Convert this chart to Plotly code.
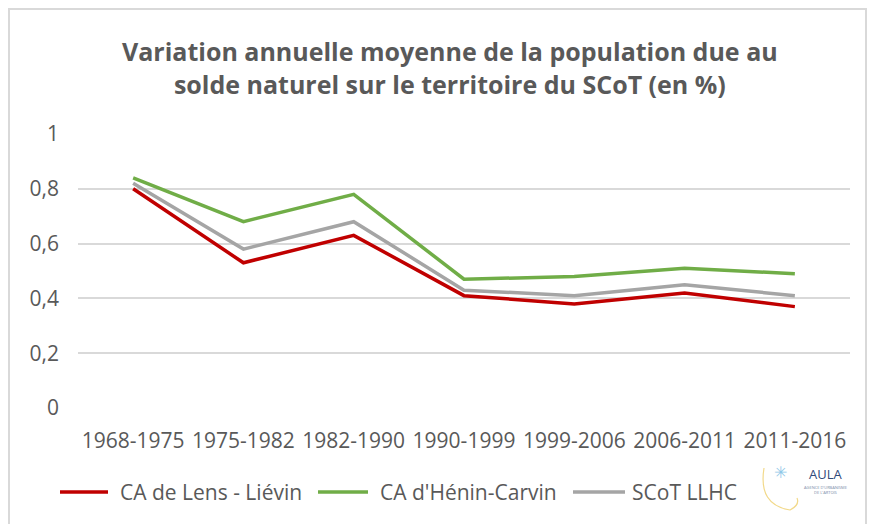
import plotly.graph_objects as go

periods = ["1968-1975", "1975-1982", "1982-1990", "1990-1999", "1999-2006", "2006-2011", "2011-2016"]
lens_lievin = [0.80, 0.53, 0.63, 0.41, 0.38, 0.42, 0.37]
henin_carvin = [0.84, 0.68, 0.78, 0.47, 0.48, 0.51, 0.49]
scot_llhc = [0.82, 0.58, 0.68, 0.43, 0.41, 0.45, 0.41]
series_names = ["CA de Lens - Liévin", "CA d'Hénin-Carvin", "SCoT LLHC"]
series_colors = ["#c00000", "#70ad47", "#a5a5a5"]
y_ticks = [0, 0.2, 0.4, 0.6, 0.8, 1]
y_tick_text = ["0", "0,2", "0,4", "0,6", "0,8", "1"]
title_text = "Variation annuelle moyenne de la population due au<br>solde naturel sur le territoire du SCoT (en %)"

SW, SH = 880, 524          # screen size
OFF = 8                    # page body margin
L, R, T, B = 78, 850, 134, 408   # plot area in screen pixels

def px(x):
    return (x - L) / (R - L)

def py(y):
    return (B - y) / (B - T)

FONT = "Open Sans"
TXT = "#595959"

fig = go.Figure()
for vals, name, col in zip([lens_lievin, henin_carvin, scot_llhc], series_names, series_colors):
    fig.add_trace(go.Scatter(x=periods, y=vals, name=name, mode="lines",
                             line=dict(color=col, width=3.5)))

shapes = []
annotations = []
# chart frame
shapes.append(dict(type="rect", xref="paper", yref="paper",
                   x0=px(9), x1=px(866), y0=py(540), y1=py(9),
                   line=dict(color="#d9d9d9", width=2), fillcolor="rgba(0,0,0,0)", layer="below"))

# legend (drawn manually to match the swatch length and spacing)
legend_y = 492
legend_slots = [(60, 108, 118), (318, 368, 378), (573, 625, 630)]
for (x0, x1, xt), name, col in zip(legend_slots, series_names, series_colors):
    shapes.append(dict(type="line", xref="paper", yref="paper",
                       x0=px(x0), x1=px(x1), y0=py(legend_y), y1=py(legend_y),
                       line=dict(color=col, width=3.5)))
    annotations.append(dict(text=name, xref="paper", yref="paper", x=px(xt), y=py(legend_y),
                            xanchor="left", yanchor="middle", showarrow=False,
                            font=dict(family=FONT, size=21, color=TXT)))

# logo arc
shapes.append(dict(type="path", xref="paper", yref="paper",
                   path=f"M {px(764)},{py(468)} Q {px(758)},{py(505)} {px(790)},{py(510)} Q {px(800)},{py(505)} {px(797)},{py(498)}",
                   line=dict(color="#f2d98a", width=1.2)))

annotations += [
    dict(text=title_text, xref="paper", yref="paper", x=px(450), y=py(68),
         xanchor="center", yanchor="middle", showarrow=False,
         font=dict(family=FONT, size=25, color=TXT, weight="bold")),
    dict(text="AULA", xref="paper", yref="paper", x=px(825), y=py(474),
         xanchor="center", yanchor="middle", showarrow=False,
         font=dict(family=FONT, size=13, color="#2f4a7a")),
    dict(text="AGENCE D'URBANISME<br>DE L'ARTOIS", xref="paper", yref="paper", x=px(825), y=py(490),
         xanchor="center", yanchor="middle", showarrow=False,
         font=dict(family=FONT, size=4, color="#7a8aa8")),
    dict(text="✳", xref="paper", yref="paper", x=px(780), y=py(472),
         xanchor="center", yanchor="middle", showarrow=False,
         font=dict(family="DejaVu Sans", size=16, color="#8ec8e8")),
]

fig.update_layout(
    width=SW - OFF, height=SH - OFF,
    margin=dict(l=L - OFF, r=SW - R, t=T - OFF, b=SH - B, autoexpand=False),
    paper_bgcolor="white", plot_bgcolor="white",
    font=dict(family=FONT, color=TXT, size=21),
    shapes=shapes, annotations=annotations,
    showlegend=False,
    xaxis=dict(type="category", range=[-0.5, 6.5], showgrid=False, showline=False, zeroline=False,
               ticks="", automargin=False, ticklabelstandoff=18,
               tickfont=dict(family=FONT, size=21, color=TXT)),
    yaxis=dict(range=[0, 1], tickvals=y_ticks, ticktext=y_tick_text,
               showgrid=True, gridcolor="#d9d9d9", gridwidth=1.5,
               zeroline=False, showline=False, ticks="", automargin=False,
               ticklabelstandoff=18,
               tickfont=dict(family=FONT, size=21, color=TXT)),
)

fig.write_html("out.html")
